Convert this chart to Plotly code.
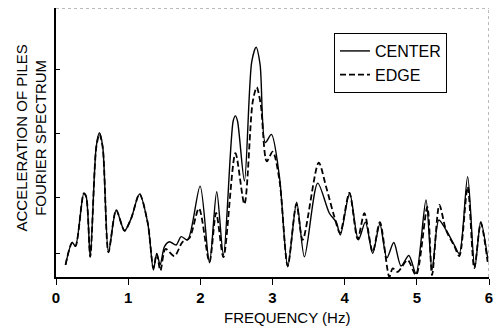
import plotly.graph_objects as go

# Fourier spectrum of pile acceleration: centre pile vs edge pile
freq_center = [0.132, 0.224, 0.270, 0.385, 0.418, 0.474, 0.557, 0.602, 0.648, 0.727,
               0.834, 0.949, 1.042, 1.157, 1.271, 1.350, 1.396, 1.443, 1.503, 1.572,
               1.665, 1.734, 1.825, 1.997, 2.126, 2.227, 2.320, 2.455, 2.486, 2.515,
               2.611, 2.712, 2.773, 2.828, 2.900, 2.985, 3.096, 3.211, 3.335, 3.442,
               3.626, 3.788, 3.885, 3.940, 4.069, 4.190, 4.287, 4.388, 4.488, 4.584,
               4.681, 4.781, 4.889, 4.989, 5.127, 5.211, 5.305, 5.404, 5.519, 5.589,
               5.704, 5.803, 5.886, 5.981]
amp_center = [0.045, 0.128, 0.115, 0.311, 0.299, 0.075, 0.484, 0.536, 0.484, 0.092,
              0.249, 0.172, 0.218, 0.309, 0.201, 0.026, 0.088, 0.045, 0.113, 0.131,
              0.119, 0.150, 0.138, 0.338, 0.053, 0.317, 0.082, 0.580, 0.599, 0.580,
              0.357, 0.800, 0.854, 0.790, 0.500, 0.530, 0.373, 0.038, 0.278, 0.075,
              0.349, 0.237, 0.203, 0.156, 0.312, 0.138, 0.204, 0.088, 0.197, 0.071,
              0.128, 0.041, 0.080, 0.013, 0.286, 0.026, 0.212, 0.175, 0.119, 0.086,
              0.373, 0.035, 0.206, 0.071]

freq_edge = [0.132, 0.224, 0.270, 0.385, 0.418, 0.474, 0.557, 0.602, 0.648, 0.727,
             0.834, 0.949, 1.042, 1.157, 1.271, 1.350, 1.396, 1.447, 1.517, 1.641,
             1.752, 1.849, 1.981, 2.126, 2.219, 2.320, 2.486, 2.611, 2.725, 2.781,
             2.838, 2.920, 3.003, 3.096, 3.211, 3.331, 3.418, 3.640, 3.742, 3.857,
             3.936, 4.065, 4.180, 4.273, 4.388, 4.488, 4.619, 4.665, 4.734, 4.873,
             4.989, 5.145, 5.211, 5.312, 5.404, 5.519, 5.589, 5.704, 5.796, 5.886,
             5.981]
amp_edge = [0.045, 0.128, 0.115, 0.311, 0.299, 0.075, 0.480, 0.531, 0.480, 0.092,
            0.249, 0.172, 0.218, 0.309, 0.201, 0.033, 0.086, 0.024, 0.104, 0.078,
            0.130, 0.145, 0.255, 0.056, 0.238, 0.074, 0.460, 0.271, 0.650, 0.705,
            0.640, 0.430, 0.466, 0.361, 0.041, 0.271, 0.138, 0.425, 0.336, 0.224,
            0.164, 0.313, 0.141, 0.237, 0.093, 0.204, 0.000, 0.032, 0.019, 0.063,
            0.007, 0.261, 0.007, 0.268, 0.175, 0.115, 0.078, 0.335, 0.033, 0.201,
            0.056]

x_ticks = [0, 1, 2, 3, 4, 5, 6]
y_ticks = [0.089, 0.297, 0.535, 0.770]

FONT = "Liberation Sans, Arial, sans-serif"

fig = go.Figure()
fig.add_trace(go.Scatter(
    x=freq_center, y=amp_center, mode="lines", name="CENTER",
    line=dict(color="black", width=1.4, shape="spline", smoothing=0.8),
))
fig.add_trace(go.Scatter(
    x=freq_edge, y=amp_edge, mode="lines", name="EDGE",
    line=dict(color="black", width=1.8, dash="6px,3px", shape="spline", smoothing=0.8),
))

# dotted top and right frame
fig.add_shape(type="line", xref="x", yref="y", x0=0, x1=6, y0=1, y1=1,
              line=dict(color="#777", width=1, dash="dot"))
fig.add_shape(type="line", xref="x", yref="y", x0=6, x1=6, y0=0, y1=1,
              line=dict(color="#777", width=1, dash="dot"))

fig.add_annotation(text="FREQUENCY (Hz)", xref="paper", yref="paper",
                   x=0.5, y=0, xanchor="center", yanchor="middle",
                   xshift=14, yshift=-40, showarrow=False,
                   font=dict(family=FONT, size=15, color="black"))
fig.add_annotation(text="ACCELERATION OF PILES<br>FOURIER SPECTRUM",
                   xref="paper", yref="paper", x=0, y=0.5,
                   xanchor="center", yanchor="middle", xshift=-25, yshift=4,
                   textangle=-90, showarrow=False,
                   font=dict(family=FONT, size=15, color="black"))

fig.update_layout(
    width=500, height=328,
    margin=dict(l=56, r=11, t=8, b=51),
    paper_bgcolor="white", plot_bgcolor="white",
    font=dict(family=FONT, color="black"),
    showlegend=True,
    legend=dict(
        x=0.642, y=0.907, xanchor="left", yanchor="top",
        bordercolor="black", borderwidth=1, bgcolor="white",
        font=dict(family=FONT, size=16, color="black"),
        itemwidth=30, tracegroupgap=0,
    ),
    xaxis=dict(
        range=[0, 6], tickvals=x_ticks,
        ticktext=[f"<b>{v}</b>" for v in x_ticks],
        tickfont=dict(family=FONT, size=15, color="black"),
        ticks="outside", ticklen=6, tickwidth=1, tickcolor="black",
        showline=True, linecolor="black", linewidth=1.5,
        showgrid=False, zeroline=False,
    ),
    yaxis=dict(
        range=[0, 1], tickvals=y_ticks, showticklabels=False,
        ticks="inside", ticklen=4, tickwidth=1, tickcolor="black",
        showline=True, linecolor="black", linewidth=1.5,
        showgrid=False, zeroline=False,
    ),
)

fig.write_html("out.html")
